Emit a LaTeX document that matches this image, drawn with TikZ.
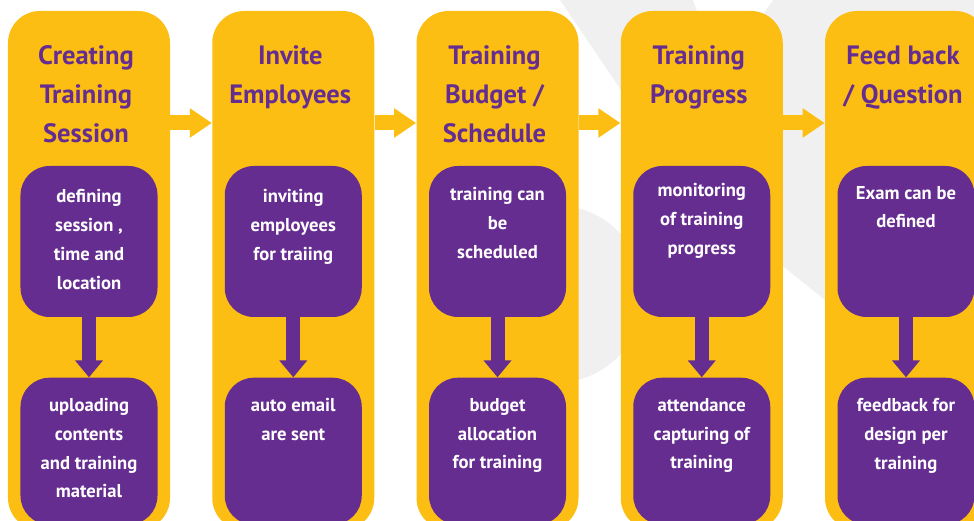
\documentclass[tikz,border=0pt]{standalone}
\usepackage{fontspec}
\setmainfont{PT Sans}
\usepackage{xcolor}
\usepackage{tikz}
\usetikzlibrary{arrows.meta,positioning}
\definecolor{stageyellow}{RGB}{252,190,18}
\definecolor{stagepurple}{RGB}{102,45,145}
\definecolor{logogray}{RGB}{240,240,240}

\begin{document}
\begin{tikzpicture}[
    stage/.style={rectangle, fill=stageyellow, rounded corners=0.64cm, minimum width=3.24cm, minimum height=10.38cm, inner sep=0},
    stagetitle/.style={align=center, inner sep=0, xshift=-0.06cm, text=stagepurple, font=\fontsize{15.1}{22.2}\selectfont\bfseries},
    task/.style={rectangle, fill=stagepurple, rounded corners=0.58cm, minimum width=2.74cm, minimum height=3.02cm, inner sep=0},
    lowtask/.style={task, minimum height=2.94cm},
    tasktext/.style={align=center, inner sep=0, text=white, font=\fontsize{10.6}{16.4}\selectfont\bfseries},
    flow/.style={-{Triangle[length=0.44cm, width=0.56cm]}, line width=0.3cm, stageyellow},
    down/.style={-{Triangle[length=0.34cm, width=0.54cm]}, line width=0.28cm, stagepurple}
]

\useasboundingbox (0,0) rectangle (19.48,10.42);
\clip (0,0) rectangle (19.48,10.42);

% Background logo
\fill[logogray] (11.2,10.42) -- (13.8,6.58) -- (19.48,2.04) -- (19.48,10.42) -- cycle;
\fill[white] (13.86,10.42) -- (15.46,10.42) -- (14.4,8.94) -- cycle;
\fill[logogray] (11.1,4.54) circle (1.78);

% Column 1 - Creating Training Session
\node[stage] (s1) at (1.78,5.01) {};
\node[stagetitle, below=0.7cm of s1.north] (h1) {Creating\\Training\\Session};
\node[task, below=3.1cm of s1.north] (t1) {};
\node[lowtask, below=1.2cm of t1] (b1) {};
\node[tasktext, below=0.47cm of t1.north] (t1txt) {defining\\session ,\\time and\\location};
\node[tasktext, below=0.41cm of b1.north] (b1txt) {uploading\\contents\\and training\\material};

% Column 2 - Invite Employees
\node[stage] (s2) at (5.865,5.01) {};
\node[stagetitle, below=0.7cm of s2.north] (h2) {Invite\\Employees};
\node[task, below=3.1cm of s2.north] (t2) {};
\node[lowtask, below=1.2cm of t2] (b2) {};
\node[tasktext, below=0.47cm of t2.north] (t2txt) {inviting\\employees\\for traiing};
\node[tasktext, below=0.41cm of b2.north] (b2txt) {auto email\\are sent};

% Column 3 - Training Budget / Schedule
\node[stage] (s3) at (9.95,5.01) {};
\node[stagetitle, below=0.7cm of s3.north] (h3) {Training\\Budget /\\Schedule};
\node[task, below=3.1cm of s3.north] (t3) {};
\node[lowtask, below=1.2cm of t3] (b3) {};
\node[tasktext, below=0.43cm of t3.north] (t3txt) {training can\\be\\scheduled};
\node[tasktext, below=0.41cm of b3.north] (b3txt) {budget\\allocation\\for training};

% Column 4 - Training Progress
\node[stage] (s4) at (14.035,5.01) {};
\node[stagetitle, below=0.7cm of s4.north] (h4) {Training\\Progress};
\node[task, below=3.1cm of s4.north] (t4) {};
\node[lowtask, below=1.2cm of t4] (b4) {};
\node[tasktext, below=0.35cm of t4.north] (t4txt) {monitoring\\of training\\progress};
\node[tasktext, below=0.41cm of b4.north] (b4txt) {attendance\\capturing of\\training};

% Column 5 - Feed back / Question
\node[stage] (s5) at (18.12,5.01) {};
\node[stagetitle, below=0.7cm of s5.north] (h5) {Feed back\\/ Question};
\node[task, below=3.1cm of s5.north] (t5) {};
\node[lowtask, below=1.2cm of t5] (b5) {};
\node[tasktext, below=0.4cm of t5.north] (t5txt) {Exam can be\\defined};
\node[tasktext, below=0.41cm of b5.north] (b5txt) {feedback for\\design per\\training};

% Down arrows inside the columns
\draw[down] (t1.south) -- (b1.north);
\draw[down] (t2.south) -- (b2.north);
\draw[down] (t3.south) -- (b3.north);
\draw[down] (t4.south) -- (b4.north);
\draw[down] (t5.south) -- (b5.north);

% Arrows between the columns
\draw[flow] ([yshift=2.95cm]s1.east) -- ([yshift=2.95cm]s2.west);
\draw[flow] ([yshift=2.95cm]s2.east) -- ([yshift=2.95cm]s3.west);
\draw[flow] ([yshift=2.95cm]s3.east) -- ([yshift=2.95cm]s4.west);
\draw[flow] ([yshift=2.95cm]s4.east) -- ([yshift=2.95cm]s5.west);

\end{tikzpicture}
\end{document}
